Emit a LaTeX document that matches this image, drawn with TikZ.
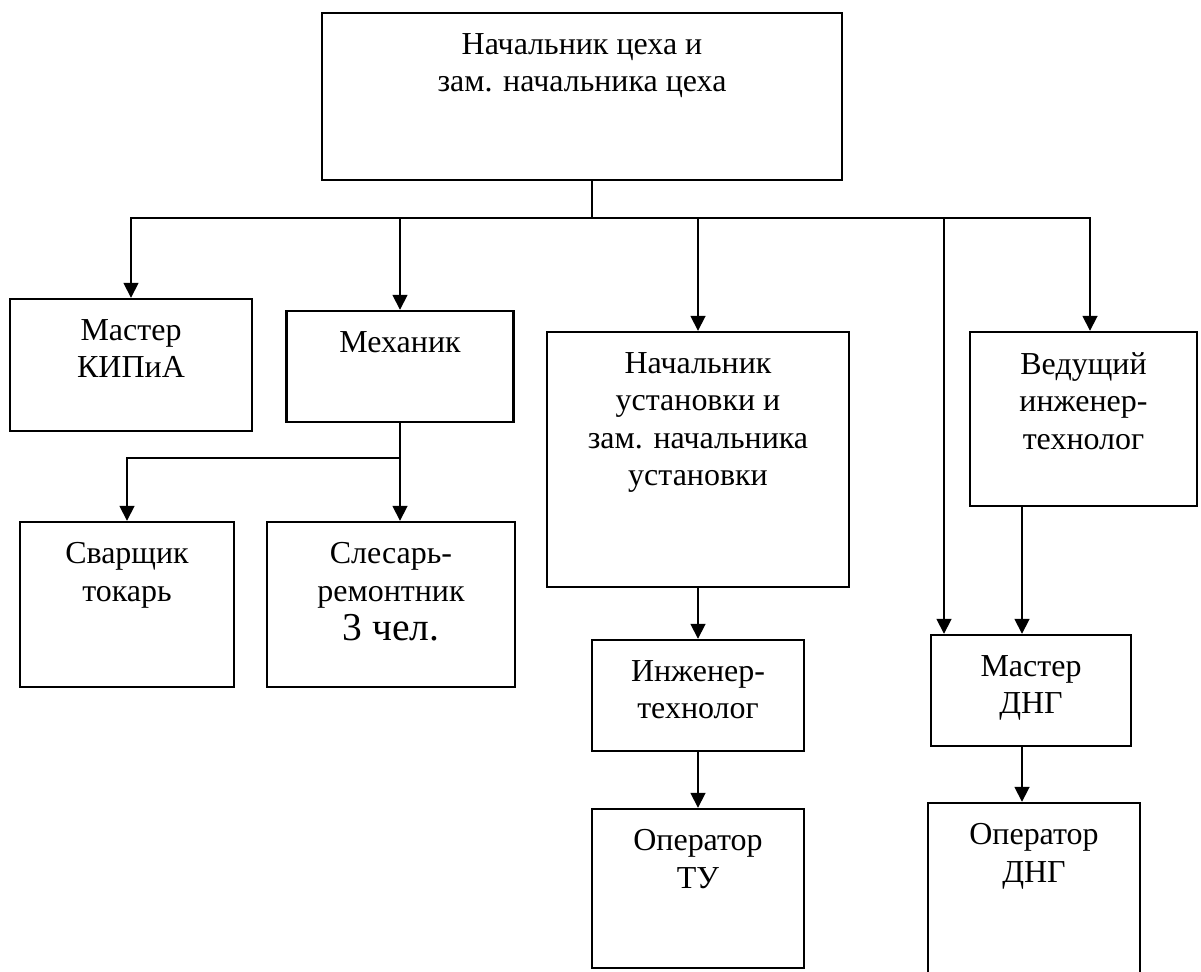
\documentclass[tikz,border=0pt]{standalone}
\usepackage{fontspec}
\setmainfont{Liberation Serif}
\usetikzlibrary{positioning, arrows.meta}
\tikzset{
	>={Triangle[length=0.3cm, width=0.3cm]},
	orgbox/.style={
			draw=black,
			line width=1.4pt,
			inner sep=0pt
		},
	orgtext/.style={
			inner sep=0pt,
			align=center,
			font=\fontsize{18.2}{21.2}\selectfont
		},
	link/.style={
			draw=black,
			line width=1pt
		}
}
\begin{document}
\begin{tikzpicture}[x=0.02cm, y=-0.02cm]
\useasboundingbox (0,0) rectangle (1201,971);
\clip (0,0) rectangle (1201,971);

\node[orgbox, minimum width=10.4cm, minimum height=3.34cm] (ceh) at (582,96.5) {};
\node[orgbox, minimum width=4.84cm, minimum height=2.64cm] (kip) at (131,365) {};
\node[orgbox, minimum width=4.54cm, minimum height=2.22cm] (mech) at (400,366.5) {};
\node[orgbox, minimum width=6.04cm, minimum height=5.10cm] (nust) at (698,459.5) {};
\node[orgbox, minimum width=4.54cm, minimum height=3.48cm] (ved) at (1083.5,419) {};
\node[orgbox, minimum width=4.28cm, minimum height=3.30cm] (svar) at (127,604.5) {};
\node[orgbox, minimum width=4.96cm, minimum height=3.30cm] (sles) at (391,604.5) {};
\node[orgbox, minimum width=4.24cm, minimum height=2.22cm] (ingt) at (698,695.5) {};
\node[orgbox, minimum width=4.24cm, minimum height=3.18cm] (optu) at (698,888.5) {};
\node[orgbox, minimum width=4.00cm, minimum height=2.22cm] (mdng) at (1031,690.5) {};
\node[orgbox, minimum width=4.24cm, minimum height=3.94cm] (opdng) at (1034,901.5) {};

\node[orgtext, below=0.43cm of ceh.north] (ceh-t) {Начальник цеха и\\зам. начальника цеха};
\node[orgtext, below=0.43cm of kip.north] (kip-t) {Мастер\\КИПиА};
\node[orgtext, below=0.43cm of mech.north] (mech-t) {Механик};
\node[orgtext, below=0.43cm of nust.north] (nust-t) {Начальник\\установки и\\зам. начальника\\установки};
\node[orgtext, below=0.43cm of ved.north] (ved-t) {Ведущий\\инженер-\\технолог};
\node[orgtext, below=0.43cm of svar.north] (svar-t) {Сварщик\\токарь};
\node[orgtext, below=0.43cm of sles.north] (sles-t) {Слесарь-\\ремонтник\\[1.5pt]{\fontsize{22.5}{26}\selectfont 3 чел.}};
\node[orgtext, below=0.43cm of ingt.north] (ingt-t) {Инженер-\\технолог};
\node[orgtext, below=0.43cm of optu.north] (optu-t) {Оператор\\ТУ};
\node[orgtext, below=0.43cm of mdng.north] (mdng-t) {Мастер\\ДНГ};
\node[orgtext, below=0.43cm of opdng.north] (opdng-t) {Оператор\\ДНГ};

\coordinate (bus) at (592,218);
\coordinate (busR) at (1090,218);
\coordinate (busD) at (944,218);
\coordinate (mjoin) at (400,458);
\coordinate (dngx) at (1022,0);

\draw[link] (ceh.south -| bus) -- (bus);
\draw[link, <->] (kip.north) |- (busR) -- (busR |- ved.north);
\draw[link, ->] (bus -| mech.north) -- (mech.north);
\draw[link, ->] (bus -| nust.north) -- (nust.north);
\draw[link, ->] (busD) -- (busD |- mdng.north);

\draw[link, ->] (mech.south) -- (mech.south |- sles.north);
\draw[link, ->] (mjoin) -| (svar.north);

\draw[link, ->] (nust.south) -- (ingt.north);
\draw[link, ->] (ingt.south) -- (optu.north);

\draw[link, ->] (ved.south -| dngx) -- (mdng.north -| dngx);
\draw[link, ->] (mdng.south -| dngx) -- (opdng.north -| dngx);
\end{tikzpicture}
\end{document}
